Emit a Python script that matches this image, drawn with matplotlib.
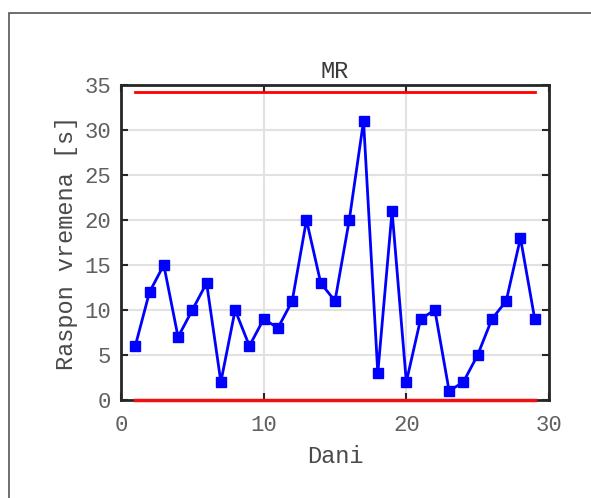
import matplotlib
matplotlib.use('Agg')
import matplotlib.pyplot as plt
from matplotlib.patches import Rectangle

# moving range data per day
dani = list(range(1, 30))
mr = [6, 12, 15, 7, 10, 13, 2, 10, 6, 9, 8, 11, 20, 13, 11, 20, 31, 3, 21, 2,
      9, 10, 1, 2, 5, 9, 11, 18, 9]
ucl = 34.25
lcl = 0

plt.rcParams['font.family'] = ['Liberation Mono', 'DejaVu Sans Mono']

fig = plt.figure(figsize=(5.91, 4.98), dpi=100)
fig.patches.append(Rectangle((9 / 591, -0.1), 1.2, (498 - 13) / 498 + 0.1,
                             transform=fig.transFigure, fill=False,
                             edgecolor='#555555', linewidth=1.2))

ax = fig.add_axes([121 / 591, (498 - 400) / 498, 428 / 591, 315 / 498])
ax.plot([dani[0], dani[-1]], [ucl, ucl], color='#ff0000', lw=2, zorder=6)
ax.plot([dani[0], dani[-1]], [lcl, lcl], color='#ee1111', lw=2.5, zorder=6,
        clip_on=False)
ax.plot(dani, mr, color='#0000ff', lw=2, marker='s', markersize=7,
        markerfacecolor='#0000ff', markeredgecolor='#0000ff', zorder=4)

ax.set_xlim(0, 30)
ax.set_ylim(0, 35)
ax.set_xticks([0, 10, 20, 30])
ax.set_yticks(range(0, 36, 5))
ax.grid(True, color='#e2e2e2', lw=1.5)
ax.set_axisbelow(True)
ax.tick_params(direction='in', length=5, width=1.5, top=True, right=True,
               labelsize=16, labelcolor='#606060', color='#262626')
ax.tick_params(axis='x', pad=11)
ax.tick_params(axis='y', pad=7)
for s in ax.spines.values():
    s.set_linewidth(2)
    s.set_color('#262626')
    s.set_zorder(5)

ax.set_title('MR', fontsize=17, color='#3a3a3a', pad=5)
ax.set_xlabel('Dani', fontsize=17, color='#4a4a4a', labelpad=6)
ax.set_ylabel('Raspon vremena [s]', fontsize=17, color='#4a4a4a', labelpad=5)

fig.savefig('out.png', dpi=100)
